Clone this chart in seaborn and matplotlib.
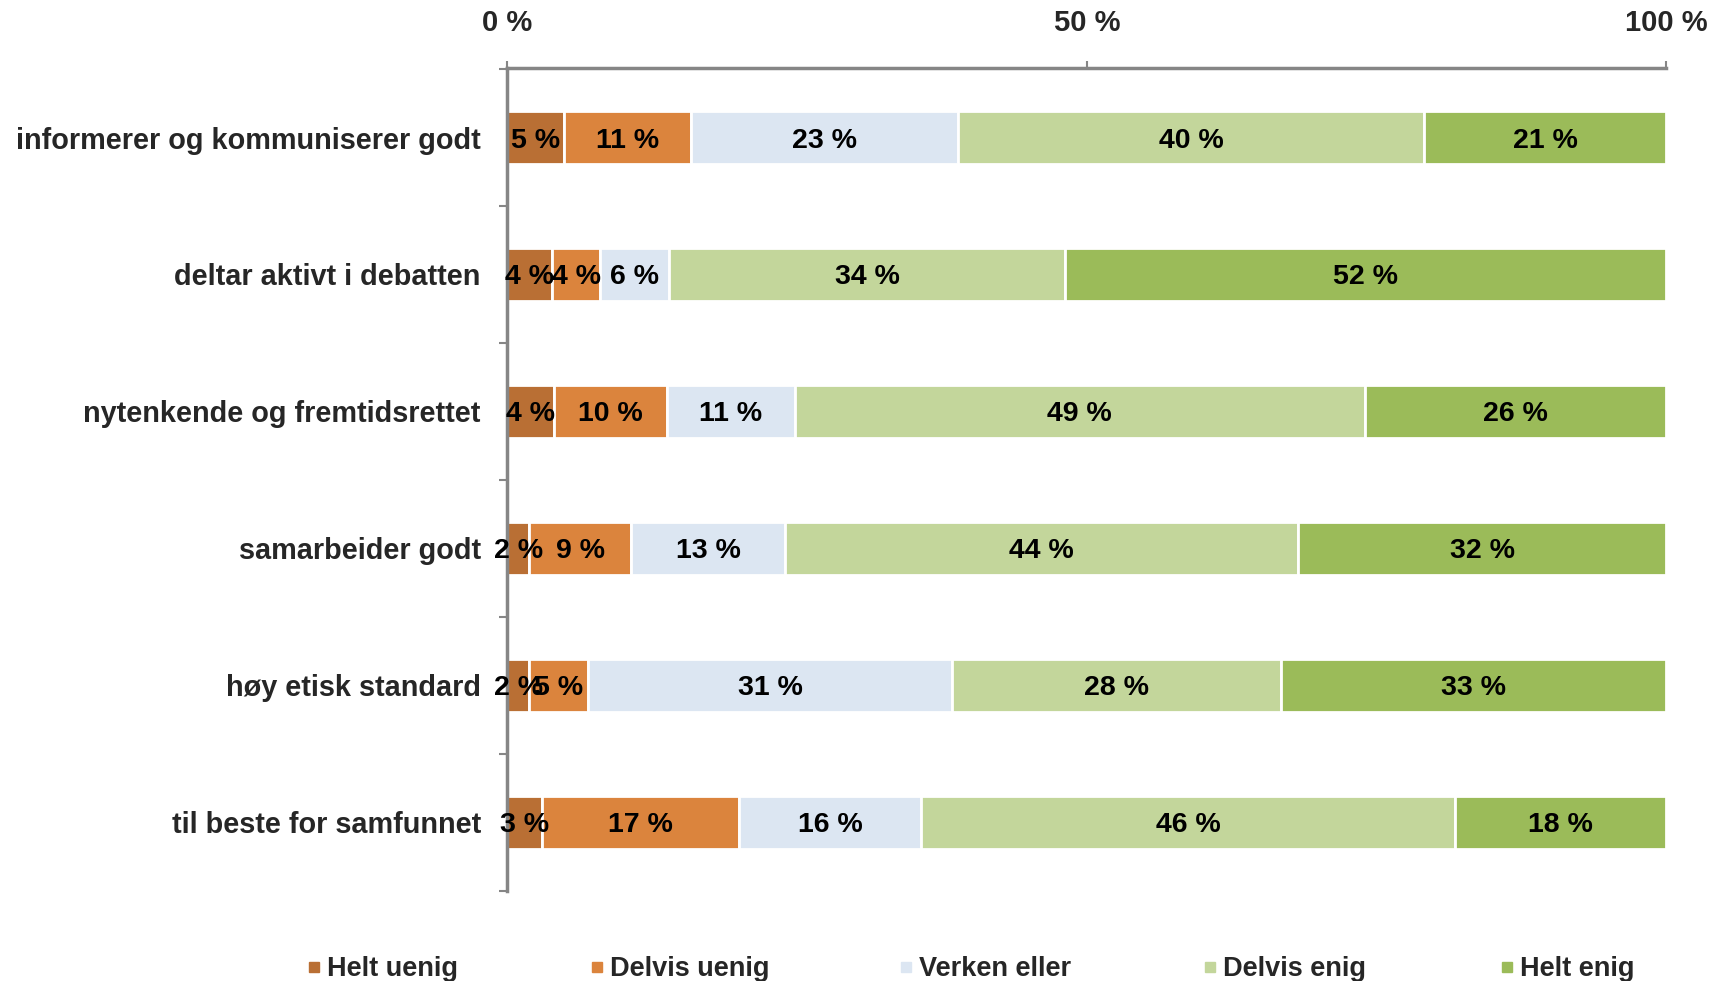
import matplotlib
matplotlib.use("Agg")
import matplotlib.pyplot as plt
import seaborn as sns
import numpy as np
from matplotlib.lines import Line2D

categories = ["informerer og kommuniserer godt", "deltar aktivt i debatten",
              "nytenkende og fremtidsrettet", "samarbeider godt",
              "høy etisk standard", "til beste for samfunnet"]
series = ["Helt uenig", "Delvis uenig", "Verken eller", "Delvis enig", "Helt enig"]
helt_uenig   = [4.9, 3.9, 4.0, 1.9, 1.9, 3.0]
delvis_uenig = [11.0, 4.1, 9.8, 8.8, 5.1, 17.0]
verken_eller = [23.0, 6.0, 11.0, 13.3, 31.4, 15.7]
delvis_enig  = [40.2, 34.1, 49.2, 44.2, 28.4, 46.1]
helt_enig    = [20.9, 51.9, 26.0, 31.8, 33.2, 18.2]
xtick_vals = [0, 50, 100]
xtick_labels = ["0 %", "50 %", "100 %"]

colors = ["#B96F34", "#DB843D", "#DCE6F2", "#C3D69B", "#9BBB59"]

sns.set_style("white")
plt.rcParams['font.family'] = ['Liberation Sans', 'DejaVu Sans']
plt.rcParams['font.weight'] = 'bold'

fig = plt.figure(figsize=(17.25, 9.81), dpi=100)
ax = fig.add_axes([0.294, 0.092, 0.672, 0.839])

data = [helt_uenig, delvis_uenig, verken_eller, delvis_enig, helt_enig]
y = np.arange(len(categories))
left = np.zeros(len(categories))
for vals, col, name in zip(data, colors, series):
    vals = np.array(vals)
    ax.barh(y, vals, left=left, height=0.385, color=col, edgecolor="white",
            linewidth=2, label=name, clip_on=False)
    for yi, l, v in zip(y, left, vals):
        ax.text(l + v / 2, yi, f"{int(round(v))} %", ha="center", va="center_baseline",
                fontsize=20.5, fontweight="bold", color="black")
    left += vals

ax.set_xlim(0, 100)
ax.set_ylim(5.47, -0.51)
ax.xaxis.tick_top()
ax.set_xticks(xtick_vals)
ax.set_xticklabels(xtick_labels, fontsize=21, fontweight="bold")
ax.tick_params(axis="x", which="major", direction="out", length=5, width=1.5,
               color="#868686", pad=17, top=True, bottom=False)
ax.set_yticks(y)
ax.set_yticklabels(categories, fontsize=20.8, fontweight="bold")
ax.set_yticks(np.arange(len(categories) + 1) - 0.5, minor=True)
ax.tick_params(axis="y", which="major", length=0, pad=19)
ax.tick_params(axis="y", which="minor", length=6, width=1.5, color="#868686", left=True)
for s in ["right", "bottom"]:
    ax.spines[s].set_visible(False)
for s in ["top", "left"]:
    ax.spines[s].set_color("#868686")
    ax.spines[s].set_linewidth(2.5)
ax.grid(False)

xs = [316, 599, 908, 1212, 1509]
for name, col, xp in zip(series, colors, xs):
    h = Line2D([], [], marker="s", linestyle="none", markersize=7,
               markerfacecolor=col, markeredgecolor=col)
    fig.legend([h], [name], loc="center left", bbox_to_anchor=(xp / 1725 - 0.006, 0.012),
               frameon=False, handletextpad=0.2, handlelength=0.6,
               borderpad=0, borderaxespad=0, prop={"weight": "bold", "size": 19.5})

fig.savefig("out.png", dpi=100)
